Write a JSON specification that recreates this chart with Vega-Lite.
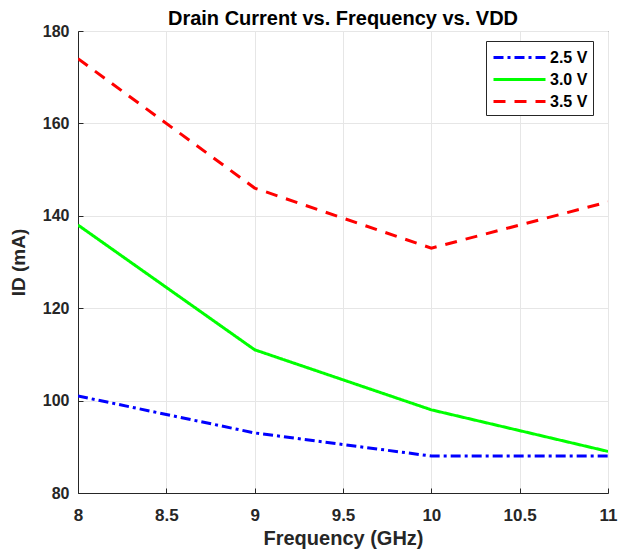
{
  "$schema": "https://vega.github.io/schema/vega-lite/v6.json",
  "width": 530,
  "height": 462,
  "padding": {"left": 78, "top": 31, "right": 18, "bottom": 60},
  "autosize": {"type": "none"},
  "background": "white",
  "title": {"text": "Drain Current vs. Frequency vs. VDD", "font": "Liberation Sans", "fontSize": 20, "fontWeight": "bold", "color": "#000000", "offset": -6, "anchor": "middle"},
  "config": {
    "view": {"stroke": "#262626", "strokeWidth": 1},
    "font": "Liberation Sans"
  },
  "data": {
    "values": [
      {"freq": 8, "id": 101, "vdd": "2.5 V"},
      {"freq": 9, "id": 93, "vdd": "2.5 V"},
      {"freq": 10, "id": 88, "vdd": "2.5 V"},
      {"freq": 11, "id": 88, "vdd": "2.5 V"},
      {"freq": 8, "id": 138, "vdd": "3.0 V"},
      {"freq": 9, "id": 111, "vdd": "3.0 V"},
      {"freq": 10, "id": 98, "vdd": "3.0 V"},
      {"freq": 11, "id": 89, "vdd": "3.0 V"},
      {"freq": 8, "id": 174, "vdd": "3.5 V"},
      {"freq": 9, "id": 146, "vdd": "3.5 V"},
      {"freq": 10, "id": 133, "vdd": "3.5 V"},
      {"freq": 11, "id": 143, "vdd": "3.5 V"}
    ]
  },
  "mark": {"type": "line", "strokeWidth": 3, "clip": true},
  "encoding": {
    "x": {
      "field": "freq", "type": "quantitative",
      "scale": {"domain": [8, 11], "nice": false, "zero": false},
      "axis": {"title": "Frequency (GHz)", "values": [8, 8.5, 9, 9.5, 10, 10.5, 11], "format": "~g",
        "titleFontSize": 20, "titleFontWeight": "bold", "titleColor": "#262626", "titlePadding": 5,
        "labelFontSize": 17, "labelFontWeight": "bold", "labelColor": "#262626", "labelPadding": 19,
        "tickSize": -5, "tickColor": "#262626", "domainColor": "#262626", "gridColor": "#e6e6e6", "labelFlush": false}
    },
    "y": {
      "field": "id", "type": "quantitative",
      "scale": {"domain": [80, 180], "nice": false, "zero": false},
      "axis": {"title": "ID (mA)", "values": [80, 100, 120, 140, 160, 180],
        "titleFontSize": 19, "titleFontWeight": "bold", "titleColor": "#262626", "titlePadding": 14,
        "labelFontSize": 16, "labelFontWeight": "bold", "labelColor": "#262626", "labelPadding": 14,
        "tickSize": -5, "tickColor": "#262626", "domainColor": "#262626", "gridColor": "#e6e6e6", "labelFlush": false}
    },
    "color": {
      "field": "vdd", "type": "nominal",
      "scale": {"domain": ["2.5 V", "3.0 V", "3.5 V"], "range": ["#0000ff", "#00ff00", "#ff0000"]},
      "legend": {"title": null, "orient": "none", "legendX": 408, "legendY": 10,
        "symbolType": "M-2.6,0H2.6", "symbolSize": 400, "symbolStrokeWidth": 3, "symbolOffset": 17,
        "labelFontSize": 16, "labelFontWeight": "bold", "labelColor": "#000000",
        "fillColor": "white", "strokeColor": "#262626", "padding": 5, "rowPadding": 2, "labelOffset": 19}
    },
    "strokeDash": {
      "field": "vdd", "type": "nominal",
      "scale": {"domain": ["2.5 V", "3.0 V", "3.5 V"], "range": [[10, 4, 3, 4], [1, 0], [12, 9]]},
      "legend": null
    }
  }
}
